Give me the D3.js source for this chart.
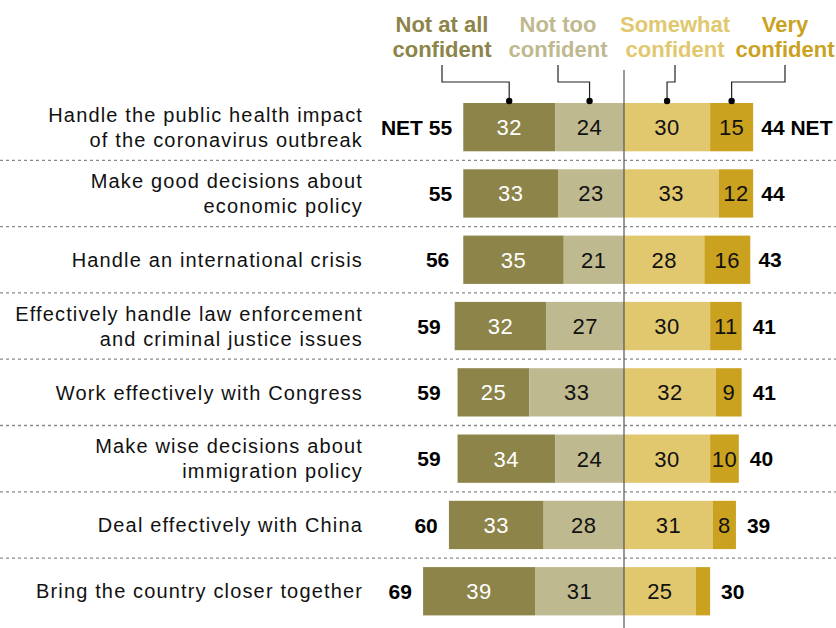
<!DOCTYPE html>
<html>
<head>
<meta charset="utf-8">
<script src="https://cdn.jsdelivr.net/npm/d3@7"></script>
<style>
  html, body { margin: 0; padding: 0; background: #fff; }
  svg { display: block; font-family: "Liberation Sans", Arial, sans-serif; }
</style>
</head>
<body>
<svg id="chart" width="836" height="628"></svg>
<script>
// Confidence in handling issues: share of respondents by level
const categories = [
  ["Handle the public health impact", "of the coronavirus outbreak"],
  ["Make good decisions about", "economic policy"],
  ["Handle an international crisis"],
  ["Effectively handle law enforcement", "and criminal justice issues"],
  ["Work effectively with Congress"],
  ["Make wise decisions about", "immigration policy"],
  ["Deal effectively with China"],
  ["Bring the country closer together"]
];
const notAtAll   = [32, 33, 35, 32, 25, 34, 33, 39];
const notToo     = [24, 23, 21, 27, 33, 24, 28, 31];
const somewhat   = [30, 33, 28, 30, 32, 30, 31, 25];
const very       = [15, 12, 16, 11, 9, 10, 8, 5];
const netNot     = [55, 55, 56, 59, 59, 59, 60, 69];
const netConf    = [44, 44, 43, 41, 41, 40, 39, 30];
const seriesNames = [["Not at all", "confident"], ["Not too", "confident"], ["Somewhat", "confident"], ["Very", "confident"]];
const colors = ["#8c8449", "#bfb98f", "#e1c86e", "#caa21f"];
const textColors = ["#fff", "#111", "#111", "#111"];

const svg = d3.select("#chart");
const W = 836, H = 628;
const cx = 624;

const x = d3.scaleLinear().domain([-100, 100]).range([cx - 287, cx + 287]);
const y = d3.scaleBand().domain(d3.range(categories.length)).range([103 - 9, 103 - 9 + 66.3 * 8]).paddingInner(18 / 66.3).paddingOuter(9 / 66.3);

// build stacked segments: left side grows outward from the centre
const rows = categories.map((c, i) => {
  const segs = [];
  const l1 = notToo[i], l0 = notAtAll[i];
  segs.push({ s: 0, x0: -(l0 + l1), x1: -l1, v: l0 });
  segs.push({ s: 1, x0: -l1, x1: 0, v: l1 });
  segs.push({ s: 2, x0: 0, x1: somewhat[i], v: somewhat[i] });
  segs.push({ s: 3, x0: somewhat[i], x1: somewhat[i] + very[i], v: very[i] });
  return { i, segs };
});

// dotted separators between rows
const sepY = d3.range(categories.length - 1).map(i => y(i) + y.bandwidth() + 9);
svg.append("g").selectAll("line").data(sepY).join("line")
  .attr("x1", 0).attr("x2", W)
  .attr("y1", d => d).attr("y2", d => d)
  .attr("stroke", "#8a8a8a").attr("stroke-width", 1.3)
  .attr("stroke-dasharray", "3,3");

const rowG = svg.append("g").selectAll("g").data(rows).join("g")
  .attr("transform", d => `translate(0,${y(d.i)})`);

rowG.selectAll("rect").data(d => d.segs).join("rect")
  .attr("x", d => x(d.x0))
  .attr("width", d => x(d.x1) - x(d.x0))
  .attr("y", 0).attr("height", y.bandwidth())
  .attr("fill", d => colors[d.s]);

rowG.selectAll("text.val").data(d => d.segs.filter(s => s.v >= 8)).join("text")
  .attr("class", "val")
  .attr("x", d => (x(d.x0) + x(d.x1)) / 2)
  .attr("y", y.bandwidth() / 2)
  .attr("dy", "0.36em")
  .attr("text-anchor", "middle")
  .attr("font-size", 22)
  .attr("letter-spacing", 0.5)
  .attr("fill", d => textColors[d.s])
  .text(d => d.v);

// category labels
rowG.each(function(d) {
  const g = d3.select(this);
  const lines = categories[d.i];
  const t = g.append("text")
    .attr("text-anchor", "end")
    .attr("font-size", 20)
    .attr("letter-spacing", 1.15)
    .attr("fill", "#111");
  lines.forEach((ln, k) => {
    t.append("tspan")
      .attr("x", 363)
      .attr("y", y.bandwidth() / 2 + (k - (lines.length - 1) / 2) * 25)
      .attr("dy", "0.36em")
      .text(ln);
  });
});

// net totals
rowG.append("text")
  .attr("x", d => x(-netNot[d.i]) - 14)
  .attr("y", y.bandwidth() / 2).attr("dy", "0.36em")
  .attr("text-anchor", "end")
  .attr("font-size", 21).attr("font-weight", "bold").attr("fill", "#000")
  .text(d => (d.i === 0 ? "NET " : "") + netNot[d.i]);

rowG.append("text")
  .attr("x", d => x(netConf[d.i]) + 11)
  .attr("y", y.bandwidth() / 2).attr("dy", "0.36em")
  .attr("text-anchor", "start")
  .attr("font-size", 21).attr("font-weight", "bold").attr("fill", "#000")
  .text(d => netConf[d.i] + (d.i === 0 ? " NET" : ""));

// centre axis
svg.append("line")
  .attr("x1", x(0)).attr("x2", x(0))
  .attr("y1", 70).attr("y2", H)
  .attr("stroke", "#555").attr("stroke-width", 1.2);

// legend headings with leader lines to the first row
const legendX = [442, 558, 675, 785];
const legend = svg.append("g");
seriesNames.forEach((nm, s) => {
  const t = legend.append("text")
    .attr("text-anchor", "middle")
    .attr("font-size", 22).attr("font-weight", "bold")
    .attr("fill", colors[s]);
  nm.forEach((ln, k) => {
    t.append("tspan").attr("x", legendX[s]).attr("y", 32 + k * 25).text(ln);
  });
});

const first = rows[0].segs;
const dotY = y(0) - 2;
first.forEach(seg => {
  const mx = (x(seg.x0) + x(seg.x1)) / 2;
  const lx = legendX[seg.s];
  const pts = Math.abs(lx - mx) > 4
    ? [[lx, 65], [lx, 82], [mx, 82], [mx, dotY]]
    : [[mx, 65], [mx, dotY]];
  legend.append("path")
    .attr("d", d3.line()(pts))
    .attr("fill", "none").attr("stroke", "#222").attr("stroke-width", 1.2);
  legend.append("circle").attr("cx", mx).attr("cy", dotY).attr("r", 3.2).attr("fill", "#000");
});
</script>
</body>
</html>
